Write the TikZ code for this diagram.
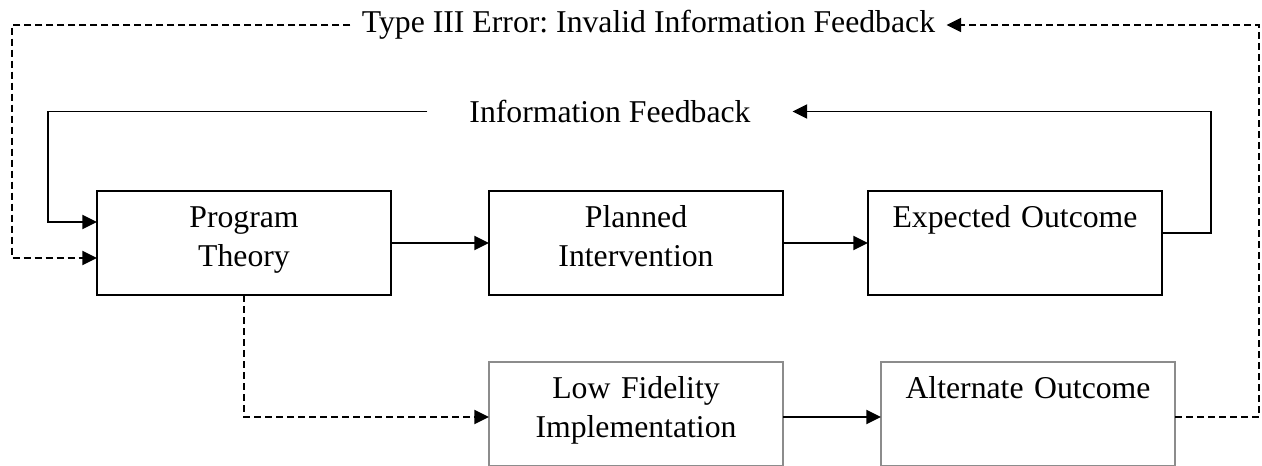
\documentclass[tikz,border=0pt]{standalone}
\usepackage{fontspec}
\setmainfont{Liberation Serif}
\usetikzlibrary{arrows.meta,positioning}
\definecolor{boxgray}{RGB}{140,140,140}
\frenchspacing

\begin{document}
\begin{tikzpicture}[
    x=0.75pt, y=-0.75pt,
    font=\fontsize{23.8pt}{29.25pt}\selectfont,
    box/.style={draw, line width=1.4pt, inner sep=0pt, outer sep=0pt, text width=220.5pt, align=center, text height=27.75pt, text depth=50.25pt},
    lowbox/.style={box, draw=boxgray},
    link/.style={line width=1.4pt},
    arrow/.style={link, -{Triangle[length=11pt,width=10.5pt]}},
    dashlink/.style={link, dash pattern=on 5.25pt off 3pt},
    dasharrow/.style={arrow, dash pattern=on 5.25pt off 3pt},
    note/.style={inner ysep=0pt, outer sep=0pt}
]
    \useasboundingbox (0,0) rectangle (1262,466);

    \node[box] (theory) at (244,243) {Program\\Theory};
    \node[box, right=73.5pt of theory] (planned) {Planned\\Intervention};
    \node[box, right=63.75pt of planned] (expected) {Expected Outcome};
    \node[lowbox, below=50pt of planned] (lowfid) {Low Fidelity\\Implementation};
    \node[lowbox, right=73.5pt of lowfid] (alternate) {Alternate Outcome};

    \node[note, inner xsep=31.5pt] (feedback) at (610,111.5) {Information Feedback};
    \node[note, inner xsep=8.6pt] (typeiii) at (648.5,25) {Type III Error: Invalid Information Feedback};

    \draw[arrow] (theory) -- (planned);
    \draw[arrow] (planned) -- (expected);
    \draw[arrow] ([yshift=-2.5pt]lowfid.east) -- ([yshift=-2.5pt]alternate.west);
    \draw[dasharrow] (theory.south) |- ([yshift=-2.5pt]lowfid.west);

    % feedback loops
    \draw[arrow] ([yshift=7.5pt]expected.east) -- ++(49,0) |- (feedback.east);
    \draw[arrow] (feedback.west) -| ([xshift=-36.75pt,yshift=15.75pt]theory.west) -- ([yshift=15.75pt]theory.west);
    \draw[dasharrow] ([yshift=-2.5pt]alternate.east) -- ++(84,0) |- (typeiii.east);
    \draw[dasharrow] (typeiii.west) -| ([xshift=-63.75pt,yshift=-11.25pt]theory.west) -- ([yshift=-11.25pt]theory.west);
\end{tikzpicture}
\end{document}
